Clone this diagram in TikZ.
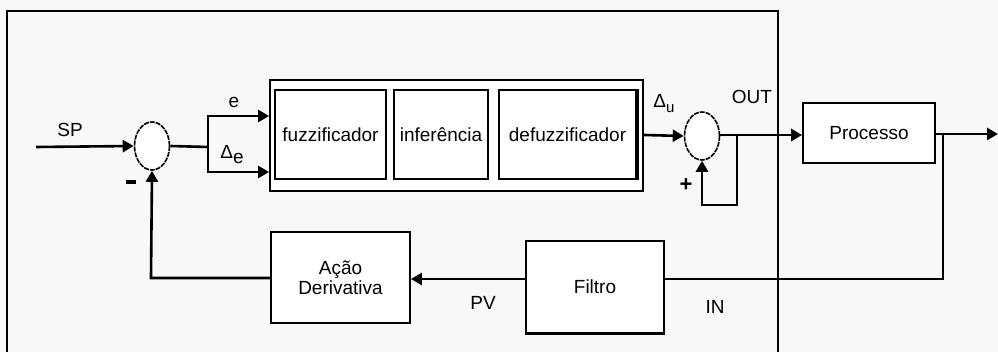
\documentclass[tikz,border=0pt]{standalone}
\usepackage{fontspec}
\setmainfont{Liberation Sans}
\usetikzlibrary{arrows.meta,shapes.geometric}
\begin{document}
\begin{tikzpicture}[x=1pt,y=-1pt,
  font=\fontsize{19}{22}\selectfont,
  wire/.style={line width=2.6pt},
  arr/.style={wire,-{Triangle[length=11pt,width=12pt]}},
  blk/.style={draw,line width=1.8pt,fill=white,inner sep=0pt,align=center},
  sumj/.style={draw,ellipse,line width=1.6pt,dash pattern=on 5pt off 1pt,fill=white,minimum width=35pt,minimum height=48pt,inner sep=0pt},
  lbl/.style={inner sep=0pt}]
\fill[fill={rgb,255:red,248;green,248;blue,248}] (0,0) rectangle (998,352);
\useasboundingbox (0,0) rectangle (998,352);
% frame
\draw[line width=1.6pt] (7,352) -- (7,11) -- (778,11) -- (778,352);
% nodes
\node[sumj] (s1) at (152,146) {};
\node[blk,minimum width=373pt,minimum height=111pt] (outer) at (456.5,135.5) {};
\node[blk,minimum width=111pt,minimum height=89pt] (fz) at (330.5,134.5) {fuzzificador};
\node[blk,minimum width=94pt,minimum height=89pt] (inf) at (441,134.5) {inferência};
\node[blk,minimum width=137pt,minimum height=89pt] (dfz) at (567.5,134.5) {defuzzificador};
\draw[line width=3.5pt] (dfz.north east) -- (dfz.south east);
\node[sumj] (s2) at (702,136) {};
\node[blk,minimum width=132pt,minimum height=60pt] (proc) at (869,133) {Processo};
\node[blk,minimum width=138pt,minimum height=92pt] (filt) at (595,287) {Filtro};
\draw[line width=3pt] (filt.south west) -- (filt.south east);
\node[blk,minimum width=139pt,minimum height=91pt] (acao) at (340.5,277.5) {Ação\\[-2pt]Derivativa};
% coordinates
\coordinate (sp) at (36,147);
\coordinate (split) at (208,147);
\coordinate (b2) at (737,135);
\coordinate (lp) at (737,205);
\coordinate (outend) at (998,134);
\coordinate (b3) at (943,134);
\coordinate (fb) at (943,279);
\coordinate (fbl) at (151,278);
% connectors
\draw[arr] (sp) -- (s1.west);
\draw[wire] (s1.east) -- (split);
\draw[arr] (split) |- ([yshift=19.5pt]outer.west);
\draw[arr] (split) |- ([yshift=-36.5pt]outer.west);
\draw[arr] (outer.east |- 0,135) -- (s2.west);
\draw[arr] (s2.east |- 0,135) -- (proc.west |- 0,135);
\draw[arr] (b2) -- (lp) -| (s2.south);
\draw[arr] (proc.east |- outend) -- (outend);
\draw[wire] (b3) -- (fb) -- (fb -| filt.east);
\draw[arr] (fb -| filt.west) -- (fb -| acao.east);
\draw[arr] (acao.west |- fbl) -- (fbl) -- (s1.south);
% labels
\node[lbl] at (70,130) {SP};
\node[lbl] at (234,102) {e};
\node[lbl] at (232,155) {Δ\raisebox{-5pt}{e}};
\node[lbl] at (664,104) {Δ\raisebox{-5pt}{\fontsize{15}{16}\selectfont u}};
\node[lbl] at (752,97) {OUT};
\node[lbl] at (131,182) {\rule{10pt}{3.5pt}};
\node[lbl,font=\fontsize{22}{22}\selectfont\bfseries] at (686,185) {+};
\node[lbl] at (483,303) {PV};
\node[lbl] at (715,307) {IN};
\end{tikzpicture}
\end{document}
